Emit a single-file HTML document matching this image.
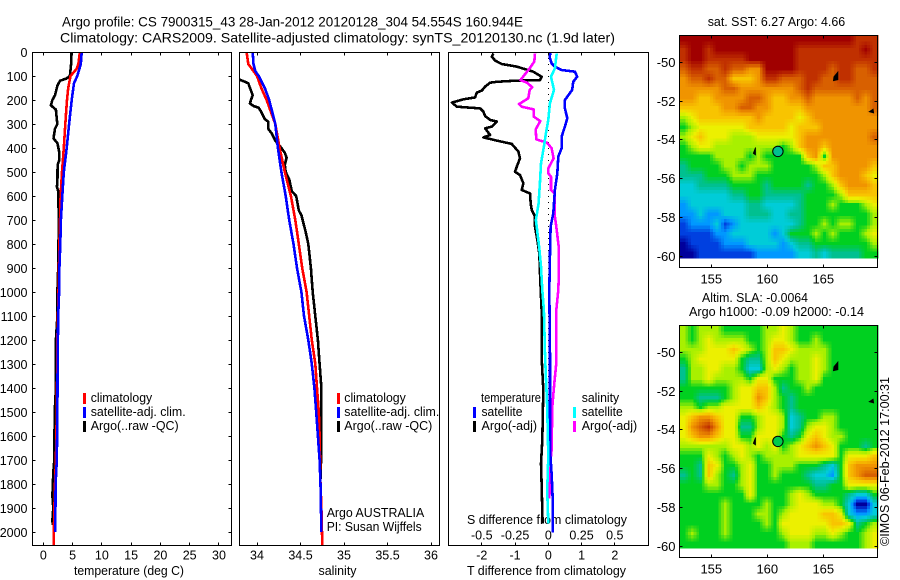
<!DOCTYPE html>
<html lang="en">
<head>
<meta charset="utf-8">
<title>Argo profile CS 7900315_43</title>
<style>
html,body{margin:0;padding:0;background:#fff;}
svg{display:block;font-family:"Liberation Sans",sans-serif;font-size:12.5px;fill:#000;}
.f{fill:none;stroke:#000;stroke-width:1;shape-rendering:crispEdges;}
.t{font-size:14px;}
</style>
</head>
<body>
<svg id="chart" xmlns="http://www.w3.org/2000/svg" width="900" height="580" viewBox="0 0 900 580">
<rect width="900" height="580" fill="#fff"/>
<text class="t" x="62" y="26.5" textLength="461" lengthAdjust="spacingAndGlyphs">Argo profile: CS 7900315_43 28-Jan-2012 20120128_304 54.554S 160.944E</text>
<text class="t" x="60" y="42.5" textLength="555" lengthAdjust="spacingAndGlyphs">Climatology: CARS2009. Satellite-adjusted climatology: synTS_20120130.nc (1.9d later)</text>

<g>
<rect x="83" y="393" width="3" height="11" fill="#f00"/>
<rect x="83" y="407" width="3" height="11" fill="#00f"/>
<rect x="83" y="421" width="3" height="11" fill="#000"/>
<text x="90.7" y="402" textLength="61.5" lengthAdjust="spacingAndGlyphs">climatology</text>
<text x="90.7" y="416" textLength="95" lengthAdjust="spacingAndGlyphs">satellite-adj. clim.</text>
<text x="90.7" y="430" textLength="88" lengthAdjust="spacingAndGlyphs">Argo(..raw -QC)</text>
</g>
<g>
<rect x="337" y="393" width="3" height="11" fill="#f00"/>
<rect x="337" y="407" width="3" height="11" fill="#00f"/>
<rect x="337" y="421" width="3" height="11" fill="#000"/>
<text x="344.3" y="402" textLength="61.5" lengthAdjust="spacingAndGlyphs">climatology</text>
<text x="344.3" y="416" textLength="95" lengthAdjust="spacingAndGlyphs">satellite-adj. clim.</text>
<text x="344.3" y="430" textLength="88" lengthAdjust="spacingAndGlyphs">Argo(..raw -QC)</text>
<text x="326.7" y="517" textLength="97.5" lengthAdjust="spacingAndGlyphs">Argo AUSTRALIA</text>
<text x="326.7" y="531" textLength="95" lengthAdjust="spacingAndGlyphs">PI: Susan Wijffels</text>
</g>
<g>
<text x="481" y="402" textLength="60" lengthAdjust="spacingAndGlyphs">temperature</text>
<rect x="473" y="407" width="3" height="11" fill="#00f"/>
<rect x="473" y="421" width="3" height="11" fill="#000"/>
<text x="481.5" y="416" textLength="41" lengthAdjust="spacingAndGlyphs">satellite</text>
<text x="481.5" y="430" textLength="55.5" lengthAdjust="spacingAndGlyphs">Argo(-adj)</text>
<text x="581.7" y="402" textLength="37.5" lengthAdjust="spacingAndGlyphs">salinity</text>
<rect x="573" y="407" width="3" height="11" fill="#0ff"/>
<rect x="573" y="421" width="3" height="11" fill="#f0f"/>
<text x="581.7" y="416" textLength="41" lengthAdjust="spacingAndGlyphs">satellite</text>
<text x="581.7" y="430" textLength="55.5" lengthAdjust="spacingAndGlyphs">Argo(-adj)</text>
<text x="467" y="524" textLength="160" lengthAdjust="spacingAndGlyphs">S difference from climatology</text>
</g>

<g id="cells"></g>
<g id="marks"></g>
<g id="ticks"></g>

<rect class="f" x="32.5" y="52.5" width="199" height="493"/>
<rect class="f" x="239.5" y="52.5" width="200" height="493"/>
<rect class="f" x="448.5" y="52.5" width="200" height="493"/>
<rect class="f" x="679.5" y="35.5" width="198" height="232"/>
<rect class="f" x="679.5" y="325.5" width="198" height="232"/>

<text x="74" y="575" textLength="110" lengthAdjust="spacingAndGlyphs">temperature (deg C)</text>
<text x="318.5" y="575" textLength="38" lengthAdjust="spacingAndGlyphs">salinity</text>
<text x="467" y="575" textLength="159" lengthAdjust="spacingAndGlyphs">T difference from climatology</text>
<text x="707.7" y="26" textLength="137.5" lengthAdjust="spacingAndGlyphs">sat. SST: 6.27 Argo: 4.66</text>
<text x="702" y="302" textLength="106" lengthAdjust="spacingAndGlyphs">Altim. SLA: -0.0064</text>
<text x="689" y="316" textLength="175" lengthAdjust="spacingAndGlyphs">Argo h1000: -0.09 h2000: -0.14</text>
<text transform="translate(889,546) rotate(-90)" x="0" y="0" textLength="169" lengthAdjust="spacingAndGlyphs">©IMOS 06-Feb-2012 17:00:31</text>
</svg>

<script>
// ---- depth axis ----
const depthTicks = [0,100,200,300,400,500,600,700,800,900,1000,1100,1200,1300,1400,1500,1600,1700,1800,1900,2000];

// ---- temperature panel ----
const tempTicks = [0,5,10,15,20,25,30];
const argoTempDepth = [3,50,100,110,120,140,180,200,222,240,280,300,320,360,380,420,450,470,550,560,580,700,800,900,1000,1100,1200,1300,1400,1500,1700,1750,1850,1900,1950,1970];
const argoTemp = [4.8,4.75,4.55,4,2.85,2.4,2,1.55,1.3,2.15,2.3,2.4,2,1.75,2.4,2.75,2.75,2.45,2.4,2.3,2.55,2.65,2.6,2.55,2.4,2.4,2.15,2.15,2.15,1.95,1.88,1.7,1.55,1.7,1.55,1.6];
const climTempDepth = [0,50,70,100,150,200,300,400,500,600,700,800,1000,1200,1500,1700,1800,2000,2055];
const climTemp = [6.25,6,5.7,4.65,4.25,4.05,3.75,3.5,3.2,2.95,2.85,2.75,2.6,2.4,2.3,2.15,2,1.8,1.8];
const satTempDepth = [0,50,100,130,200,300,400,500,600,700,800,900,1000,1100,1300,1500,1700,1800,2000];
const satTemp = [6.55,6.4,5.8,5.25,4.85,4.4,4,3.5,3.25,3,2.9,2.75,2.7,2.55,2.45,2.4,2.3,2.1,2.05];

// ---- salinity panel ----
const salTicks = [34,34.5,35,35.5,36];
const argoSalDepth = [115,130,150,180,200,215,225,232,250,280,290,320,340,370,390,420,440,470,500,530,580,600,660,680,750,800,900,1000,1100,1200,1300,1400,1500,1650,1780];
const argoSal = [33.8,33.9,33.92,33.95,33.93,33.92,33.96,34.02,34.05,34.09,34.13,34.13,34.17,34.21,34.26,34.32,34.34,34.32,34.33,34.37,34.4,34.45,34.48,34.51,34.56,34.59,34.62,34.64,34.67,34.7,34.72,34.74,34.74,34.74,34.73];
const climSalDepth = [0,50,70,100,150,200,300,400,500,600,700,800,900,1000,1100,1200,1300,1400,1500,1600,1800,1900,2055];
const climSal = [33.88,33.9,33.94,34,34.05,34.11,34.21,34.26,34.32,34.39,34.44,34.48,34.52,34.57,34.6,34.63,34.67,34.69,34.71,34.72,34.73,34.74,34.75];
const satSalDepth = [0,50,80,100,150,200,300,400,500,600,700,800,900,1000,1100,1200,1300,1400,1500,1600,1700,1800,2000];
const satSal = [33.95,33.96,33.98,34.02,34.09,34.14,34.21,34.24,34.28,34.33,34.37,34.42,34.46,34.51,34.54,34.59,34.63,34.66,34.68,34.7,34.72,34.73,34.74];

// ---- difference panel ----
const tDiffTicks = [-2,-1,0,1,2];
const sDiffTicks = [-0.5,-0.25,0,0.25,0.5];
const sDiffLabels = ['-0.5','-0.25','0','0.25','0.5'];
const zeroLineDepths = [0,1700];
const zeroLineValues = [0,0];
const argoTDiffDepth = [6,19,36,50,61,82,103,117,119,124,128,144,161,169,189,197,211,228,235,249,267,283,290,311,318,346,356,369,383,415,443,471,499,513,547,575,589,631,658,686,728,783,839,922,992,1075,1269,1408,1617,1714,1797,1964];
const argoTDiff = [-1.65,-1.7,-1.6,-1.4,-0.95,-0.45,-0.2,-0.25,-0.95,-1.55,-1.75,-1.9,-2,-2.15,-2.2,-2.55,-2.9,-2.75,-2.05,-1.95,-1.9,-1.75,-1.55,-1.7,-1.9,-1.75,-1.95,-1.55,-1.1,-0.9,-0.85,-0.93,-1,-0.85,-0.75,-0.8,-0.55,-0.53,-0.5,-0.4,-0.4,-0.33,-0.27,-0.25,-0.23,-0.2,-0.2,-0.15,-0.18,-0.22,-0.2,-0.17];
const satTDiffDepth = [6,8,26,47,61,75,82,103,124,158,200,235,276,311,353,401,436,506,575,672,728,839,992,1269,1408,1658,1756,1853,2003];
const satTDiff = [0.1,0.03,0.05,0.1,0.2,0.4,0.8,0.87,0.75,0.72,0.5,0.5,0.57,0.5,0.4,0.4,0.3,0.27,0.2,0.15,0.07,0.05,0.03,0.05,0.05,0.05,0.1,0.13,0.13];
const argoSDiffDepth = [6,40,68,117,128,147,158,193,217,228,239,269,288,322,364,378,401,443,485,506,519,575,592,686,728,818,922,992,1075,1200,1297,1381,1478,1658,1728,1860];
const argoSDiff = [-0.1,-0.105,-0.14,-0.21,-0.16,-0.12,-0.14,-0.15,-0.22,-0.2,-0.11,-0.11,-0.06,-0.095,-0.09,-0.01,0.025,0.04,0,0,0.02,0.02,0.05,0.05,0.06,0.08,0.08,0.075,0.06,0.06,0.06,0.045,0.03,0.025,0.012,0.008];
const satSDiffDepth = [6,68,103,158,214,283,339,394,464,547,631,700,818,894,992,1075,1256,1353,1478,1686,1825,1964];
const satSDiff = [0.063,0.05,0.02,0.043,0.012,0,-0.018,-0.033,-0.055,-0.063,-0.073,-0.093,-0.068,-0.055,-0.045,-0.033,-0.025,-0.018,-0.008,0,-0.008,0];

// ---- maps ----
const lonTicks = [155,160,165];
const latTicks = [-50,-52,-54,-56,-58,-60];
const levelColors = ['#00009c','#0040e0','#0098ff','#00ccd8','#00c090','#00d020','#a8f000','#ecf000','#f8c400','#f09400','#d86000','#c03000','#a00000'];
const argoLon = 160.944;
const argoLat = -54.6;
const argoSstLevel = 4;
const argoSlaLevel = 4.6;
const islandA = [[166.3,-50.5],[166.3,-50.9],[165.9,-50.95],[165.95,-50.75]];
const islandB = [[169.1,-52.55],[169.45,-52.42],[169.5,-52.62]];
const islandC = [[158.95,-54.4],[158.95,-54.78],[158.75,-54.7]];

const sstGrid = [
[12,12,12,12,12,12,12,12,12,12,12,12,12,12,12,12,12,12,12,12,12,11,11,11],
[11,12,12,11,12,12,12,12,12,12,12,12,12,12,11,11,11,11,11,11,11,11,12,11],
[11,12,12,11,11,11,11,11,12,12,12,12,12,12,11,11,11,11,11,11,11,11,11,11],
[10,11,11,10,10,11,10,10,9,9,12,12,12,12,11,11,11,11,10,11,11,10,10,11],
[9,10,10,11,10,10,8,8,8,9,11,11,10,10,10,11,11,10,10,11,11,10,10,10],
[9,9,9,9,9,10,10,9,9,9,9,9,9,9,10,11,10,10,10,10,10,10,10,10],
[9,9,8,8,9,9,9,9,10,10,9,8,8,9,9,10,9,9,9,9,9,10,9,10],
[8,8,8,8,8,9,9,10,10,9,9,8,8,8,8,9,9,9,9,9,9,9,9,10],
[6,7,8,8,8,8,8,8,8,9,8,8,8,8,7,8,9,9,9,9,9,9,9,9],
[5,6,7,7,7,7,7,7,8,8,8,8,8,7,8,8,8,9,9,9,9,9,9,9],
[6,7,8,7,7,7,6,6,6,7,7,7,7,7,8,9,9,9,9,9,9,9,9,10],
[5,6,7,7,6,6,6,6,6,6,6,6,5,6,8,9,9,8,9,9,9,9,9,9],
[5,5,5,5,6,6,6,6,5,6,5,5,5,5,5,8,9,5,9,9,9,9,9,9],
[4,5,5,5,5,6,6,5,6,6,6,5,5,5,5,5,6,8,8,9,9,9,9,8],
[4,4,4,5,5,5,6,6,6,5,5,5,5,5,5,5,5,6,8,9,9,9,8,7],
[3,3,4,4,4,4,5,5,5,5,4,5,5,5,5,4,5,5,6,8,9,9,9,8],
[3,3,3,3,3,3,4,4,5,5,4,4,4,4,4,5,5,5,5,6,8,8,8,8],
[2,3,3,3,3,3,3,3,4,4,3,3,3,3,4,5,5,5,6,5,5,5,6,7],
[2,2,3,2,2,3,3,3,4,4,4,3,3,4,4,5,5,5,5,5,5,5,5,6],
[1,2,2,2,3,1,2,3,3,3,3,3,3,3,4,5,5,6,5,6,6,5,5,6],
[1,1,1,1,2,2,3,3,3,3,3,2,3,5,5,5,6,5,6,5,5,5,6,7],
[0,1,1,1,1,2,2,2,3,3,3,3,2,3,4,4,5,5,5,5,5,5,5,6],
[0,0,1,1,1,1,1,1,1,2,2,2,2,2,3,3,4,3,4,4,4,4,5,5]
];
const slaGrid = [
[6,5,6,6,6,5,5,5,5,5,6,6,7,6,5,5,5,5,5,5,5,5,5,5],
[6,5,6,7,6,6,6,6,5,5,6,7,7,6,5,5,6,5,5,5,5,5,5,5],
[6,6,6,7,7,7,8,7,6,5,6,8,8,7,6,6,6,6,5,5,5,5,5,5],
[5,6,7,7,7,7,7,5,4,4,6,8,7,6,6,6,7,6,5,5,5,5,5,5],
[4,6,6,7,7,6,6,5,3,3,6,7,6,5,6,6,7,6,5,5,5,5,5,5],
[4,6,6,7,6,6,6,6,5,7,7,5,5,5,6,6,7,5,5,5,5,5,5,5],
[5,5,5,5,5,5,6,7,7,8,8,6,4,5,5,6,5,5,5,5,5,5,5,5],
[5,5,4,4,4,5,6,7,7,9,8,6,5,4,5,5,5,5,5,5,5,5,5,5],
[6,6,5,6,6,7,7,7,7,8,7,6,5,4,5,5,5,5,5,5,5,5,5,5],
[7,8,9,9,8,7,7,5,5,6,7,7,6,3,4,5,5,6,6,5,5,5,5,5],
[7,9,10,11,9,7,7,4,4,6,7,7,6,3,4,6,7,7,6,5,5,5,5,5],
[7,8,9,9,8,7,7,5,5,7,7,7,5,4,5,7,8,7,6,6,5,5,5,5],
[6,6,6,6,6,6,7,7,6,7,6,7,5,6,7,8,9,8,7,5,5,5,4,5],
[5,5,5,7,6,5,6,7,6,5,6,6,6,6,7,7,7,7,7,5,7,7,7,8],
[5,5,4,8,7,5,5,6,7,5,5,6,6,6,5,5,5,4,3,5,8,9,9,9],
[4,5,4,8,6,5,4,6,7,5,5,6,5,5,5,4,3,3,2,5,8,9,10,10],
[5,5,5,6,6,5,5,6,7,5,5,5,5,5,5,5,4,4,5,5,7,7,7,7],
[5,5,5,5,5,5,5,5,7,5,5,5,5,6,7,6,5,5,5,5,4,3,3,5],
[5,5,5,5,5,6,5,5,5,5,6,5,5,6,7,7,7,6,6,5,3,0,0,3],
[5,5,5,5,5,6,5,5,5,6,6,5,6,7,7,7,7,8,8,7,3,2,2,3],
[5,5,5,5,5,6,5,5,5,5,6,5,7,7,7,7,7,7,8,8,7,4,5,6],
[5,6,5,5,5,6,5,5,5,5,5,5,6,7,7,7,6,6,7,6,5,5,6,7],
[5,5,5,5,5,5,5,5,5,5,5,5,5,6,6,6,5,5,5,5,5,5,6,7]
];

// ---- axis functions ----
const NS = 'http://www.w3.org/2000/svg';
const yDepth = d => 52 + 0.24 * d;
const xTemp = v => 43.3 + 5.856 * v;
const xSal = v => 257 + 87 * (v - 34);
const xTDiff = v => 548.3 + 33.25 * v;
const xSDiff = v => 548.3 + 133 * v;
const xLon = lon => 767.3 + 11.2 * (lon - 160);
const ySst = lat => 62.3 + 19.37 * (-50 - lat);
const ySla = lat => 352.3 + 19.37 * (-50 - lat);
const cellLonStart = 152.2;
const cellLonStep = 17.7 / 24;
const cellLatStart = -48.6;
const cellLatStep = 0.5;
const cellSubdiv = 3;

function make(tag, attrs, parentId) {
  const el = document.createElementNS(NS, tag);
  for (const k in attrs) el.setAttribute(k, attrs[k]);
  document.getElementById(parentId).appendChild(el);
  return el;
}
function profilePts(depths, vals, xf) {
  return depths.map((d, i) => xf(vals[i]).toFixed(1) + ',' + yDepth(d).toFixed(1)).join(' ');
}
function drawProfile(depths, vals, xf, color, name) {
  const el = make('polyline', {points: profilePts(depths, vals, xf), fill: 'none', stroke: color, 'stroke-width': 2.6, 'stroke-linejoin': 'round', 'shape-rendering': 'crispEdges'}, 'marks');
  
  
  return el;
}
function tickLine(x1, y1, x2, y2) {
  const el = make('line', {x1, y1, x2, y2, stroke: '#000', 'stroke-width': 1, 'shape-rendering': 'crispEdges'}, 'ticks');
  
  
}
function tickText(x, y, str, anchor, size) {
  const el = make('text', {x, y, 'text-anchor': anchor}, 'ticks');
  if (size) el.setAttribute('font-size', size);
  el.textContent = str;
  
  
}
function snap(v) { return Math.round(v - 0.5) + 0.5; }

// depth axis on temperature panel
depthTicks.forEach(d => {
  const y = snap(yDepth(d));
  tickLine(32.5, y, 35.5, y);
  tickLine(228.5, y, 231.5, y);
  tickText(27.5, y + 4.5, String(d), 'end');
});
function drawXTicks(vals, xf, labelFn) {
  vals.forEach((v, i) => {
    const x = snap(xf(v));
    tickLine(x, 52.5, x, 55.5);
    tickLine(x, 542.5, x, 545.5);
    tickText(xf(v), 559.5, labelFn(v, i), 'middle');
  });
}
drawXTicks(tempTicks, xTemp, v => String(v));
drawXTicks(salTicks, xSal, v => String(v));
drawXTicks(tDiffTicks, xTDiff, v => String(v));
sDiffTicks.forEach((v, i) => {
  tickText(xSDiff(v), 539.5, sDiffLabels[i], 'middle');
});

// zero reference line in difference panel
const zeroLine = make('polyline', {points: profilePts(zeroLineDepths, zeroLineValues, xTDiff), fill: 'none', stroke: '#000', 'stroke-width': 1, 'stroke-dasharray': '1 5', 'shape-rendering': 'crispEdges'}, 'marks');



// temperature lines
drawProfile(argoTempDepth, argoTemp, xTemp, '#000', 'argo-temperature-line');
drawProfile(climTempDepth, climTemp, xTemp, '#f00', 'climatology-temperature-line');
drawProfile(satTempDepth, satTemp, xTemp, '#00f', 'satellite-temperature-line');
// salinity lines
drawProfile(argoSalDepth, argoSal, xSal, '#000', 'argo-salinity-line');
drawProfile(climSalDepth, climSal, xSal, '#f00', 'climatology-salinity-line');
drawProfile(satSalDepth, satSal, xSal, '#00f', 'satellite-salinity-line');
// difference lines
drawProfile(argoTDiffDepth, argoTDiff, xTDiff, '#000', 'argo-t-difference-line');
drawProfile(argoSDiffDepth, argoSDiff, xSDiff, '#f0f', 'argo-s-difference-line');
drawProfile(satTDiffDepth, satTDiff, xTDiff, '#00f', 'satellite-t-difference-line');
drawProfile(satSDiffDepth, satSDiff, xSDiff, '#0ff', 'satellite-s-difference-line');

// colour scale: continuous lookup along the palette
function hexToRgb(h) {
  return [parseInt(h.substr(1, 2), 16), parseInt(h.substr(3, 2), 16), parseInt(h.substr(5, 2), 16)];
}
function levelColor(level) {
  const l = Math.max(0, Math.min(levelColors.length - 1, level));
  const i = Math.min(levelColors.length - 2, Math.floor(l));
  const t = l - i;
  const a = hexToRgb(levelColors[i]);
  const b = hexToRgb(levelColors[i + 1]);
  return 'rgb(' + a.map((c, k) => Math.round(c + (b[k] - c) * t)).join(',') + ')';
}
// bilinear sampling of a grid at fractional column/row position
function sampleGrid(grid, cf, rf) {
  const rows = grid.length, cols = grid[0].length;
  const c = Math.max(0, Math.min(cols - 1, cf));
  const r = Math.max(0, Math.min(rows - 1, rf));
  const c0 = Math.floor(c), r0 = Math.floor(r);
  const c1 = Math.min(cols - 1, c0 + 1), r1 = Math.min(rows - 1, r0 + 1);
  const tc = c - c0, tr = r - r0;
  const top = grid[r0][c0] * (1 - tc) + grid[r0][c1] * tc;
  const bot = grid[r1][c0] * (1 - tc) + grid[r1][c1] * tc;
  return top * (1 - tr) + bot * tr;
}

// maps
function drawMap(grid, yLat, cellName, circleLevel, circleName, topY, bottomY) {
  const nr = grid.length * cellSubdiv;
  const nc = grid[0].length * cellSubdiv;
  for (let r = 0; r < nr; r++) {
    for (let c = 0; c < nc; c++) {
      const x0 = xLon(cellLonStart + c * cellLonStep / cellSubdiv);
      const x1 = xLon(cellLonStart + (c + 1) * cellLonStep / cellSubdiv);
      const y0 = yLat(cellLatStart - r * cellLatStep / cellSubdiv);
      const y1 = yLat(cellLatStart - (r + 1) * cellLatStep / cellSubdiv);
      const level = sampleGrid(grid, (c + 0.5) / cellSubdiv - 0.5, (r + 0.5) / cellSubdiv - 0.5);
      const cell = make('rect', {x: x0.toFixed(1), y: y0.toFixed(1), width: (x1 - x0 + 0.4).toFixed(1), height: (y1 - y0 + 0.4).toFixed(1), fill: levelColor(level), 'shape-rendering': 'crispEdges'}, 'cells');
      
      
    }
  }
  [islandA, islandB, islandC].forEach(island => {
    const pts = island.map(p => xLon(p[0]).toFixed(1) + ',' + yLat(p[1]).toFixed(1)).join(' ');
    const poly = make('polygon', {points: pts, fill: '#000', stroke: '#000', 'stroke-width': 0.8}, 'cells');
    
    
  });
  const ring = make('circle', {cx: xLon(argoLon).toFixed(1), cy: yLat(argoLat).toFixed(1), r: 5.2, fill: levelColor(circleLevel), stroke: '#000', 'stroke-width': 1}, 'cells');
  
  
  lonTicks.forEach(lon => {
    const x = snap(xLon(lon));
    tickLine(x, topY, x, topY + 3);
    tickLine(x, bottomY - 3, x, bottomY);
    tickText(xLon(lon), bottomY + 16, String(lon), 'middle', 13);
  });
  latTicks.forEach(lat => {
    const y = snap(yLat(lat));
    tickLine(679.5, y, 682.5, y);
    tickLine(874.5, y, 877.5, y);
    tickText(675.5, y + 4.5, String(lat), 'end', 13);
  });
}
drawMap(sstGrid, ySst, 'sst-cell', argoSstLevel, 'argo-location-sst', 35.5, 267.5);
drawMap(slaGrid, ySla, 'sla-cell', argoSlaLevel, 'argo-location-sla', 325.5, 557.5);
</script>
</body>
</html>
